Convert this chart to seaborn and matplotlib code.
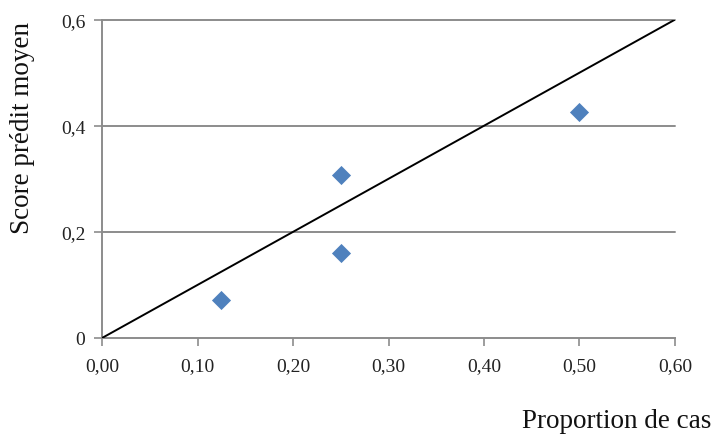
import matplotlib
matplotlib.use("Agg")
import matplotlib.pyplot as plt
import seaborn as sns
import pandas as pd

# data
proportion = [0.125, 0.25, 0.25, 0.50]
score = [0.072, 0.307, 0.161, 0.425]
diag_x = [0.0, 0.6]
diag_y = [0.0, 0.6]

x_ticks = [0.0, 0.1, 0.2, 0.3, 0.4, 0.5, 0.6]
y_ticks = [0.0, 0.2, 0.4, 0.6]
x_labels = ["0,00", "0,10", "0,20", "0,30", "0,40", "0,50", "0,60"]
y_labels = ["0", "0,2", "0,4", "0,6"]

sns.set_style("white")
plt.rcParams['font.family'] = ['Liberation Serif', 'DejaVu Serif']

grey = "#8c8c8c"
fig = plt.figure(figsize=(7.16, 4.39), dpi=100)
ax = fig.add_axes([0.1425, 0.2278, 0.8002, 0.7252])

df = pd.DataFrame({"x": proportion, "y": score})
sns.lineplot(x=diag_x, y=diag_y, color="black", linewidth=1.4, ax=ax, zorder=3)
sns.scatterplot(data=df, x="x", y="y", marker="D", s=95, color="#4F81BD",
                edgecolor="#4F81BD", linewidth=0, ax=ax, zorder=4)

ax.set_xlim(0, 0.6)
ax.set_ylim(0, 0.6)
ax.set_xticks(x_ticks)
ax.set_xticklabels(x_labels)
ax.set_yticks(y_ticks)
ax.set_yticklabels(y_labels)

for yv in y_ticks[1:]:
    ax.axhline(yv, color=grey, linewidth=1.4, zorder=1, clip_on=False)

for side in ["top", "right"]:
    ax.spines[side].set_visible(False)
for side in ["left", "bottom"]:
    ax.spines[side].set_color(grey)
    ax.spines[side].set_linewidth(1.4)

ax.tick_params(axis="both", which="major", direction="out", length=6,
               width=1.2, color=grey, labelsize=14, labelcolor="#222222",
               left=True, bottom=True)
ax.tick_params(axis="x", pad=8)
ax.tick_params(axis="y", pad=6)

ax.set_xlabel("")
ax.set_ylabel("")
fig.text(23 / 716, 1 - 128 / 439, "Score prédit moyen", rotation=90,
         ha="center", va="center", fontsize=19.5, color="#111111")
fig.text(0.994, 0.025, "Proportion de cas", ha="right", va="baseline",
         fontsize=19.5, color="#111111")

fig.savefig("out.png", dpi=100)
